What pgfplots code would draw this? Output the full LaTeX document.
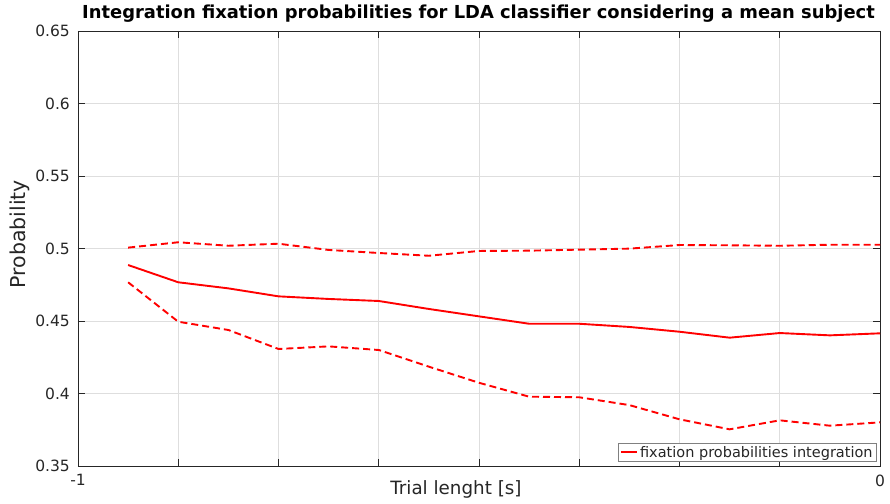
\documentclass[border=0pt]{standalone}
\usepackage{pgfplots}
\pgfplotsset{compat=1.18}
\usepackage{pgfplotstable}
\usepackage{fontspec}
\setmainfont{DejaVu Sans}

\definecolor{axgray}{rgb}{0.15,0.15,0.15}
\definecolor{gridgray}{rgb}{0.87,0.87,0.87}

% trial length, mean integration probability, upper and lower bounds
\pgfplotstableread{
x        mean    upper   lower
-0.9375  0.4886  0.5006  0.4767
-0.875   0.4767  0.5043  0.4495
-0.8125  0.4725  0.5019  0.4438
-0.75    0.4670  0.5033  0.4307
-0.6875  0.4652  0.4990  0.4325
-0.625   0.4638  0.4969  0.4300
-0.5625  0.4583  0.4950  0.4185
-0.5     0.4532  0.4983  0.4074
-0.4375  0.4481  0.4985  0.3978
-0.375   0.4481  0.4992  0.3974
-0.3125  0.4459  0.4999  0.3920
-0.25    0.4426  0.5024  0.3822
-0.1875  0.4385  0.5022  0.3753
-0.125   0.4417  0.5019  0.3815
-0.0625  0.4401  0.5026  0.3778
0        0.4415  0.5026  0.3801
}\fixdata

\begin{document}
\begin{tikzpicture}
\useasboundingbox (-78pt,-37pt) rectangle (812pt,466pt);
\begin{axis}[
  scale only axis,
  width=802pt, height=435pt,
  xmin=-1, xmax=0, ymin=0.35, ymax=0.65,
  xtick={-1,-0.875,...,0},
  xticklabels={-1,,,,,,,,0},
  ytick={0.35,0.4,...,0.651},
  yticklabel style={/pgf/number format/fixed, /pgf/number format/precision=2},
  /pgf/number format/assume math mode=true,
  tick label style={font=\fontsize{15.5}{18}\selectfont, text=axgray},
  xticklabel style={anchor=north, yshift=-5pt},
  yticklabel style={anchor=east, inner sep=0pt, xshift=-8pt},
  tick align=inside,
  major tick length=7pt,
  tick style={axgray, line width=0.8pt},
  axis line style={axgray, line width=0.8pt},
  grid=major,
  major grid style={gridgray, line width=0.9pt},
  title={Integration fixation probabilities for LDA classifier considering a mean subject},
  title style={at={(rel axis cs:0.4994,1)}, anchor=base, yshift=6pt,
    font=\bfseries\fontsize{17.9}{20}\selectfont, text=black, inner sep=0pt},
  xlabel={Trial lenght [s]},
  xlabel style={at={(rel axis cs:0.4713,0)}, anchor=base, yshift=-28pt,
    font=\fontsize{18.3}{20}\selectfont, text=axgray, inner sep=0pt},
  ylabel={Probability},
  ylabel style={at={(rel axis cs:0,0.533)}, anchor=base, yshift=52pt,
    font=\fontsize{20.5}{23}\selectfont, text=axgray, inner sep=0pt},
  legend style={at={(rel axis cs:1,0)}, anchor=south east, xshift=-3pt, yshift=4pt,
    draw=gray, line width=0.8pt, fill=white, inner xsep=2pt, inner ysep=1pt,
    font=\fontsize{14.5}{17}\selectfont, text=axgray},
  legend image code/.code={\draw[red, line width=1.9pt] (0pt,0pt) -- (16pt,0pt);},
  legend cell align=left,
]
\addplot[red, line width=1.9pt] table[x=x, y=mean] {\fixdata};
\addlegendentry{fixation probabilities integration}
\addplot[red, line width=1.9pt, dash pattern=on 7pt off 4pt, forget plot] table[x=x, y=upper] {\fixdata};
\addplot[red, line width=1.9pt, dash pattern=on 7pt off 4pt, forget plot] table[x=x, y=lower] {\fixdata};
\end{axis}
\end{tikzpicture}
\end{document}
